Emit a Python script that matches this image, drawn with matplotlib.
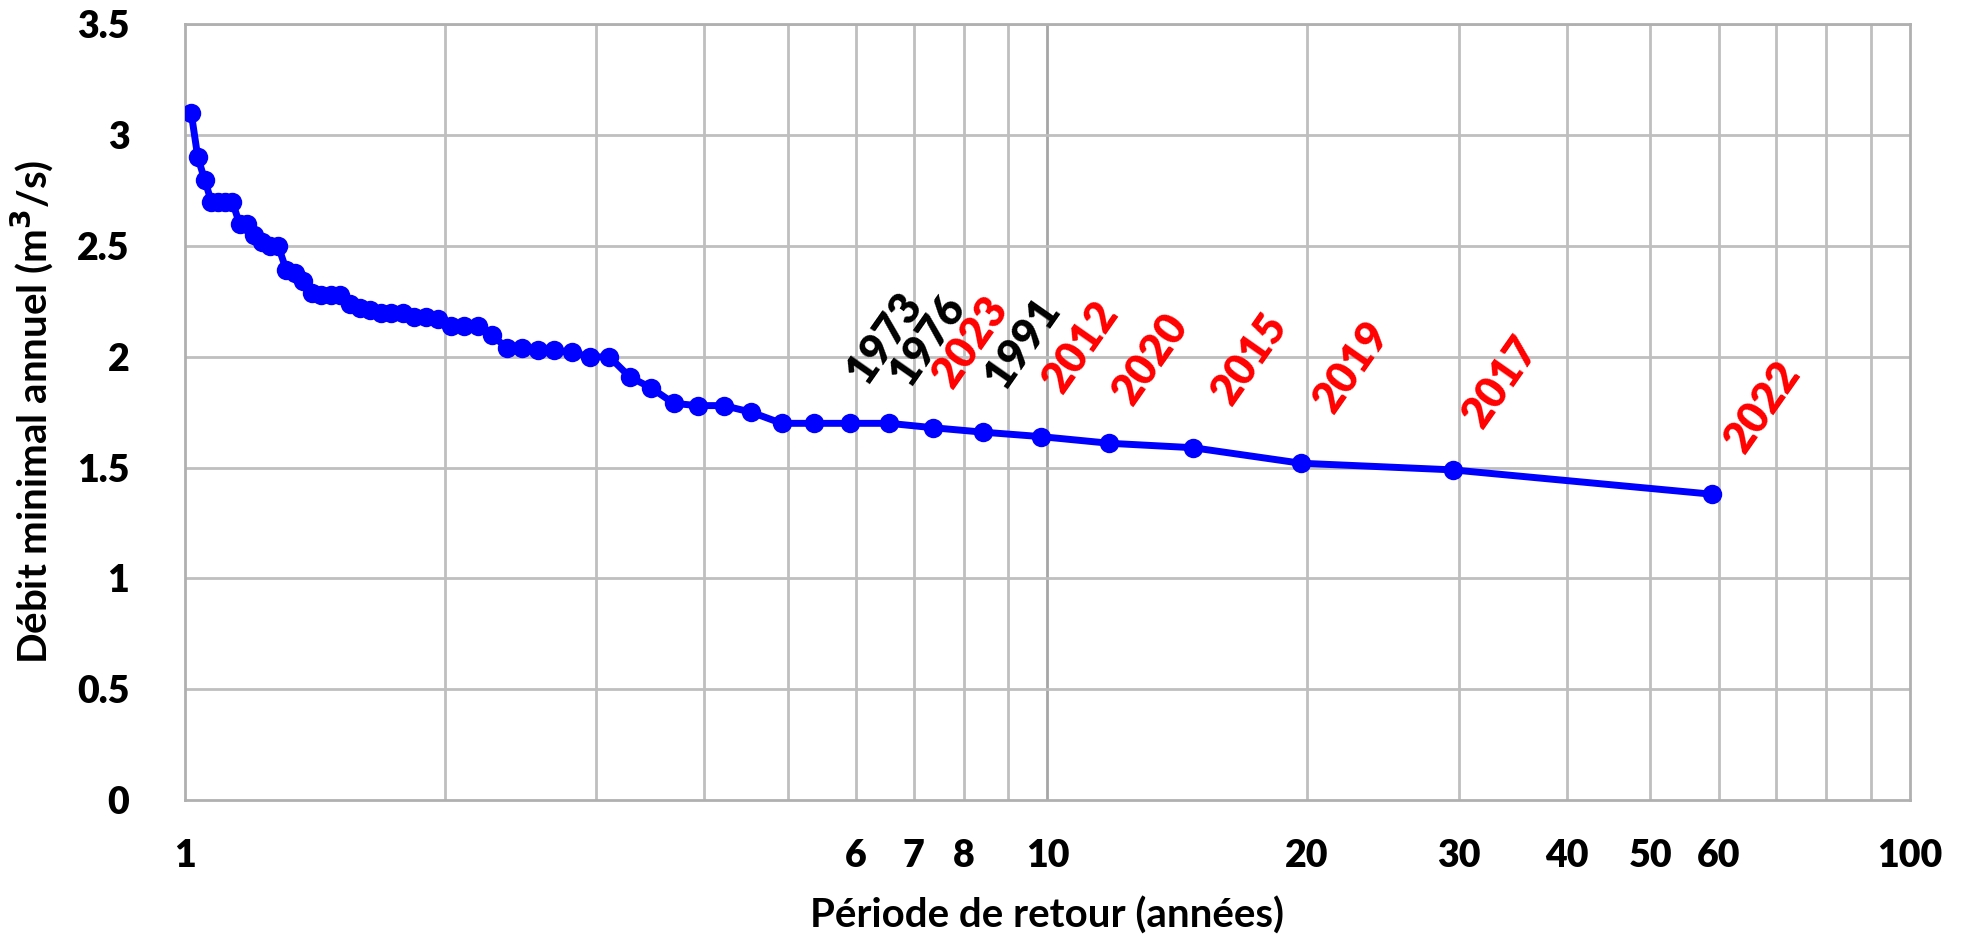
import matplotlib
matplotlib.use("Agg")
import matplotlib.pyplot as plt
from matplotlib.ticker import FixedLocator, NullFormatter, NullLocator

# ---- data ----
return_period = [1.017, 1.035, 1.054, 1.073, 1.093, 1.113, 1.135, 1.157, 1.18, 1.204,
                 1.229, 1.255, 1.283, 1.311, 1.341, 1.372, 1.405, 1.439, 1.475, 1.513,
                 1.553, 1.595, 1.639, 1.686, 1.735, 1.788, 1.844, 1.903, 1.967, 2.034,
                 2.107, 2.185, 2.269, 2.36, 2.458, 2.565, 2.682, 2.81, 2.95, 3.105,
                 3.278, 3.471, 3.688, 3.933, 4.214, 4.538, 4.917, 5.364, 5.9, 6.556,
                 7.375, 8.429, 9.833, 11.8, 14.75, 19.67, 29.5, 59.0]
min_flow = [3.10, 2.90, 2.80, 2.70, 2.70, 2.70, 2.70, 2.60, 2.60, 2.55,
            2.52, 2.50, 2.50, 2.39, 2.38, 2.34, 2.29, 2.28, 2.28, 2.28,
            2.24, 2.22, 2.21, 2.20, 2.20, 2.20, 2.18, 2.18, 2.17, 2.14,
            2.14, 2.14, 2.10, 2.04, 2.04, 2.03, 2.03, 2.02, 2.00, 2.00,
            1.91, 1.86, 1.79, 1.78, 1.78, 1.75, 1.70, 1.70, 1.70, 1.70,
            1.68, 1.66, 1.64, 1.61, 1.59, 1.52, 1.49, 1.38]
year_labels = ["1973", "1976", "2023", "1991", "2012", "2020", "2015", "2019", "2017", "2022"]
year_is_recent = [False, False, True, False, True, True, True, True, True, True]
x_tick_values = [1, 6, 7, 8, 10, 20, 30, 40, 50, 60, 100]
x_tick_labels = ["1", "6", "7", "8", "10", "20", "30", "40", "50", "60", "100"]
y_tick_values = [0, 0.5, 1, 1.5, 2, 2.5, 3, 3.5]
y_tick_labels = ["0", "0.5", "1", "1.5", "2", "2.5", "3", "3.5"]

# label offsets (pixels) from marker to label's lower-left corner
label_offsets = [(-10, 33), (-7, 31), (-8, 34), (-6, 37), (-5, 38), (-4, 32),
                 (12, 37), (6, 44), (3, 36), (5, 35)]

FONT = ["Lato", "DejaVu Sans"]
plt.rcParams["font.family"] = FONT

fig = plt.figure(figsize=(19.61, 9.38), dpi=100)
ax = fig.add_axes([0.0943, 0.147, 0.8797, 0.827])

ax.set_xscale("log")
ax.set_xlim(1, 100)
ax.set_ylim(0, 3.5)

ax.plot(return_period, min_flow, color="#0000FF", lw=5, marker="o",
        markersize=14, markeredgewidth=0, zorder=3, solid_joinstyle="round")

# grid
grid_minor = [2, 3, 4, 5, 6, 7, 8, 9, 20, 30, 40, 50, 60, 70, 80, 90]
for g in grid_minor:
    ax.axvline(g, color="#BFBFBF", lw=2.0, zorder=1)
ax.axvline(10, color="#A6A6A6", lw=2.0, zorder=1)
for yv in y_tick_values[1:]:
    ax.axhline(yv, color="#BFBFBF", lw=2.0, zorder=1)
for s in ax.spines.values():
    s.set_color("#B0B0B0")
    s.set_linewidth(2.0)

ax.xaxis.set_major_locator(FixedLocator(x_tick_values))
ax.xaxis.set_minor_locator(NullLocator())
ax.xaxis.set_minor_formatter(NullFormatter())
ax.set_xticks(x_tick_values)
ax.set_xticklabels(x_tick_labels, fontsize=27, fontweight="heavy")
ax.set_yticks(y_tick_values)
ax.set_yticklabels(y_tick_labels, fontsize=27, fontweight="heavy")
ax.tick_params(axis="x", length=0, pad=28)
ax.tick_params(axis="y", length=0, pad=40)

ax.set_xlabel("Période de retour (années)", fontsize=29, fontweight="bold", labelpad=17)
ax.set_ylabel("Débit minimal annuel (m$^{\\mathbf{3}}$/s)", fontsize=29,
              fontweight="bold", labelpad=16)

n = len(year_labels)
for i, (lab, recent, off) in enumerate(zip(year_labels, year_is_recent, label_offsets)):
    idx = len(return_period) - n + i
    ax.annotate(lab, (return_period[idx], min_flow[idx]), xytext=off,
                textcoords="offset pixels", ha="left", va="bottom",
                rotation=55, fontsize=31, fontweight="heavy",
                color="#FF0000" if recent else "#000000", zorder=4)

fig.savefig("out.png", dpi=100)
